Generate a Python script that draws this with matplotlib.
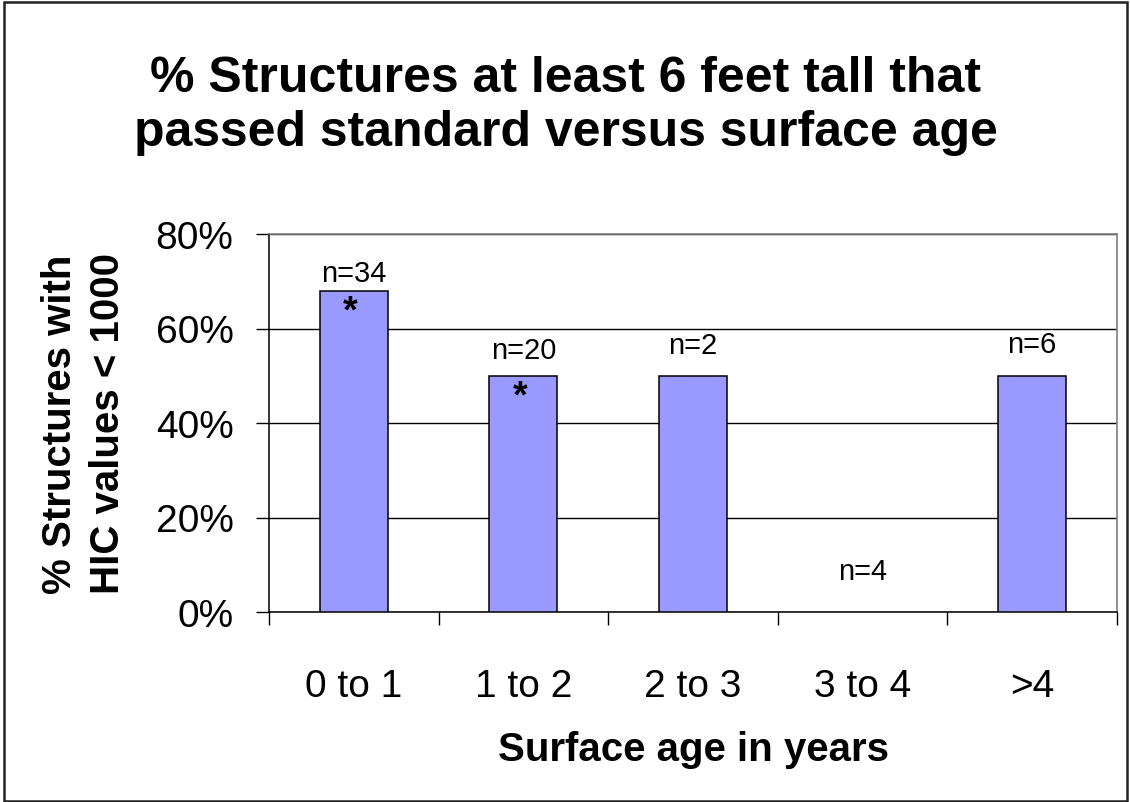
import numpy as np
import matplotlib
matplotlib.use('Agg')
import matplotlib.pyplot as plt
from matplotlib.patches import Rectangle

plt.rcParams['font.family'] = ['Liberation Sans', 'DejaVu Sans']

# data
categories = ['0 to 1', '1 to 2', '2 to 3', '3 to 4', '>4']
pct_passed = [68, 50, 50, 0, 50]
n_counts   = [34, 20, 2, 4, 6]
signif     = ['*', '*', '', '', '']

# label placement (in % units relative to bar top)
n_offset    = [2.0, 3.8, 4.8, 7.0, 5.0]
star_offset = -6.5

fig = plt.figure(figsize=(11.3, 8.03), dpi=100)
ax = fig.add_axes([269/1130, 1 - 613/803, 848/1130, 378/803])

x = np.arange(len(categories))
edge = ['black' if v > 0 else 'none' for v in pct_passed]
ax.bar(x, pct_passed, width=0.4, color='#9999FF', edgecolor=edge, linewidth=1.1, zorder=3)

for xi, v, n, off in zip(x, pct_passed, n_counts, n_offset):
    ax.text(xi, v + off, 'n={}'.format(n), ha='center', va='baseline', fontsize=21, zorder=4)
for xi, v, s in zip(x, pct_passed, signif):
    if s:
        ax.text(xi - 0.02, v + star_offset, s, ha='center', va='baseline',
                fontsize=27, fontweight='bold', zorder=4)

ax.set_xlim(-0.5, len(categories) - 0.5)
ax.set_ylim(0, 80)
ax.set_yticks([0, 20, 40, 60, 80])
ax.set_yticklabels(['{}%'.format(t) for t in [0, 20, 40, 60, 80]])
ax.set_xticks(x)
ax.set_xticklabels(categories)
ax.set_xticks(np.arange(-0.5, len(categories), 1.0), minor=True)
ax.tick_params(axis='x', which='major', length=0, pad=40, labelsize=28)
ax.tick_params(axis='x', which='minor', length=9, width=1, color='black')
ax.tick_params(axis='y', which='major', length=9.5, width=1, pad=16, labelsize=28)

ax.yaxis.grid(True, color='black', linewidth=1.0, zorder=0)
ax.set_axisbelow(True)
for side in ['top', 'right']:
    ax.spines[side].set_color('#808080')
    ax.spines[side].set_linewidth(1.2)
for side in ['left', 'bottom']:
    ax.spines[side].set_color('black')
    ax.spines[side].set_linewidth(1.1)

fig.text(566/1130, 1 - 106/803, '% Structures at least 6 feet tall that\npassed standard versus surface age',
         ha='center', va='center', fontsize=36, fontweight='bold', linespacing=1.25)
fig.text(693/1130, 1 - 750/803, 'Surface age in years', ha='center', va='center',
         fontsize=29, fontweight='bold')
fig.text(84/1130, 1 - 424/803, '% Structures with\nHIC values < 1000', ha='center', va='center',
         rotation=90, fontsize=29, fontweight='bold', linespacing=1.35)

# outer border of the chart
fig.add_artist(Rectangle((4/1130, 1/803), 1123/1130, 799/803, transform=fig.transFigure,
                         fill=False, edgecolor='#222222', linewidth=1.8))

fig.savefig('out.png', dpi=100)
